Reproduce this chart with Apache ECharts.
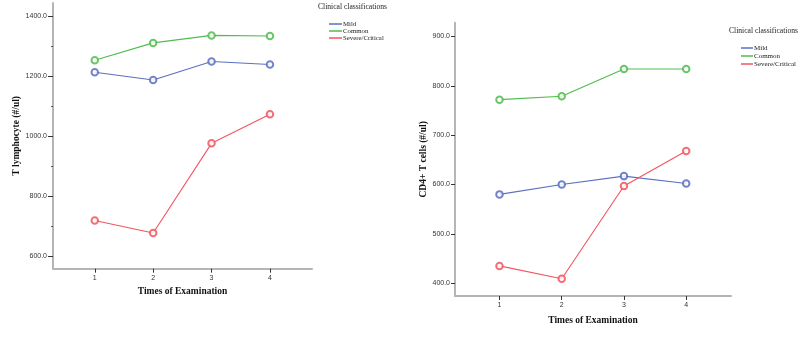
<!DOCTYPE html>
<html><head><meta charset="utf-8">
<script src="https://cdn.jsdelivr.net/npm/echarts@6/dist/echarts.min.js"></script>
<style>html,body{margin:0;padding:0;background:#fff}#c{width:800px;height:337px}</style>
</head><body><div id="c"></div>
<script>
var times = [1, 2, 3, 4];
var seriesNames = ['Mild', 'Common', 'Severe/Critical'];
var tMild = [1214, 1188, 1250, 1240];
var tCommon = [1254, 1312, 1337, 1335];
var tSevere = [720, 678, 977, 1074];
var cdMild = [580, 600, 617, 602];
var cdCommon = [772, 779, 834, 834];
var cdSevere = [435, 409, 597, 668];
var tTicks = [600, 800, 1000, 1200, 1400];
var tMinorTicks = [700, 900, 1100, 1300];
var cdTicks = [400, 500, 600, 700, 800, 900];

var colors = ['#5b6fc2', '#4fbd4f', '#f2555e'];
var serif = '"Liberation Serif","DejaVu Serif",serif';
var sans = '"Liberation Sans",Arial,sans-serif';

function pairs(vals){ return times.map(function(t,i){ return [t, vals[i]]; }); }

function xAxis(gi, nameGap){
  return {
    type:'value', gridIndex:gi, min:0.285, max:4.72,
    name:'Times of Examination', nameLocation:'middle', nameGap:nameGap,
    nameTextStyle:{fontFamily:serif, fontWeight:'bold', fontSize:9.5, color:'#111'},
    axisLine:{lineStyle:{color:'#b5b5b5', width:2}},
    axisTick:{show:true, inside:false, customValues:times, length:4, lineStyle:{color:'#333', width:1}},
    axisLabel:{customValues:times, fontFamily:sans, fontSize:7, color:'#333', margin:6},
    splitLine:{show:false}
  };
}

var option = {
  animation:false,
  color:colors,
  grid:[
    {left:53, top:3, width:259, height:265.7},
    {left:455, top:22.7, width:276, height:273.3}
  ],
  xAxis:[xAxis(0,17), xAxis(1,20)],
  yAxis:[
    {type:'value', gridIndex:0, min:559, max:1445,
     name:'T lymphocyte (#/ul)', nameLocation:'middle', nameGap:30,
     nameTextStyle:{fontFamily:serif, fontWeight:'bold', fontSize:9.5, color:'#111'},
     axisLine:{show:true, lineStyle:{color:'#b5b5b5', width:2}},
     axisTick:{show:true, inside:false, customValues:tTicks, length:5, lineStyle:{color:'#333'}},
     axisLabel:{customValues:tTicks, formatter:function(v){return v.toFixed(1);}, fontFamily:sans, fontSize:7, color:'#333', margin:6},
     splitLine:{show:false}},
    {type:'value', gridIndex:0, min:559, max:1445, position:'left',
     axisLine:{show:false},
     axisTick:{show:true, inside:false, customValues:tMinorTicks, length:2, lineStyle:{color:'#555'}},
     axisLabel:{show:false}, splitLine:{show:false}},
    {type:'value', gridIndex:1, min:374, max:928,
     name:'CD4+ T cells (#/ul)', nameLocation:'middle', nameGap:25,
     nameTextStyle:{fontFamily:serif, fontWeight:'bold', fontSize:9.5, color:'#111'},
     axisLine:{show:true, lineStyle:{color:'#b5b5b5', width:2}},
     axisTick:{show:true, inside:false, customValues:cdTicks, length:4, lineStyle:{color:'#333'}},
     axisLabel:{customValues:cdTicks, formatter:function(v){return v.toFixed(1);}, fontFamily:sans, fontSize:7, color:'#333', margin:5},
     splitLine:{show:false}}
  ],
  legend:[
    {orient:'vertical', left:324, top:15.5, itemWidth:13, itemHeight:1.5, itemGap:0, icon:'rect',
     itemStyle:{borderWidth:0, opacity:1},
     data:seriesNames, textStyle:{fontFamily:serif, fontSize:6.8, lineHeight:7, color:'#222', padding:[0,0,0,-4]}},
    {orient:'vertical', left:736, top:39, itemWidth:12, itemHeight:1.5, itemGap:0, icon:'rect',
     itemStyle:{borderWidth:0, opacity:1},
     data:seriesNames, textStyle:{fontFamily:serif, fontSize:7, lineHeight:8, color:'#222', padding:[0,0,0,-4]}}
  ],
  graphic:[
    {type:'text', left:318, top:3, style:{text:'Clinical classifications', font:'7.6px '+serif, fill:'#222'}},
    {type:'text', left:729, top:27, style:{text:'Clinical classifications', font:'7.6px '+serif, fill:'#222'}}
  ],
  series:[]
};
var groups = [[tMild,tCommon,tSevere],[cdMild,cdCommon,cdSevere]];
groups.forEach(function(g, gi){
  g.forEach(function(vals, si){
    option.series.push({
      type:'line', name:seriesNames[si], xAxisIndex:gi, yAxisIndex:gi===0?0:2,
      data:pairs(vals), symbol:'emptyCircle', symbolSize:6.5,
      lineStyle:{width:1.1, color:colors[si]},
      itemStyle:{color:colors[si], borderColor:colors[si], borderWidth:0.6, opacity:0.85},
      emphasis:{disabled:true}
    });
  });
});
echarts.init(document.getElementById('c')).setOption(option);
</script></body></html>
